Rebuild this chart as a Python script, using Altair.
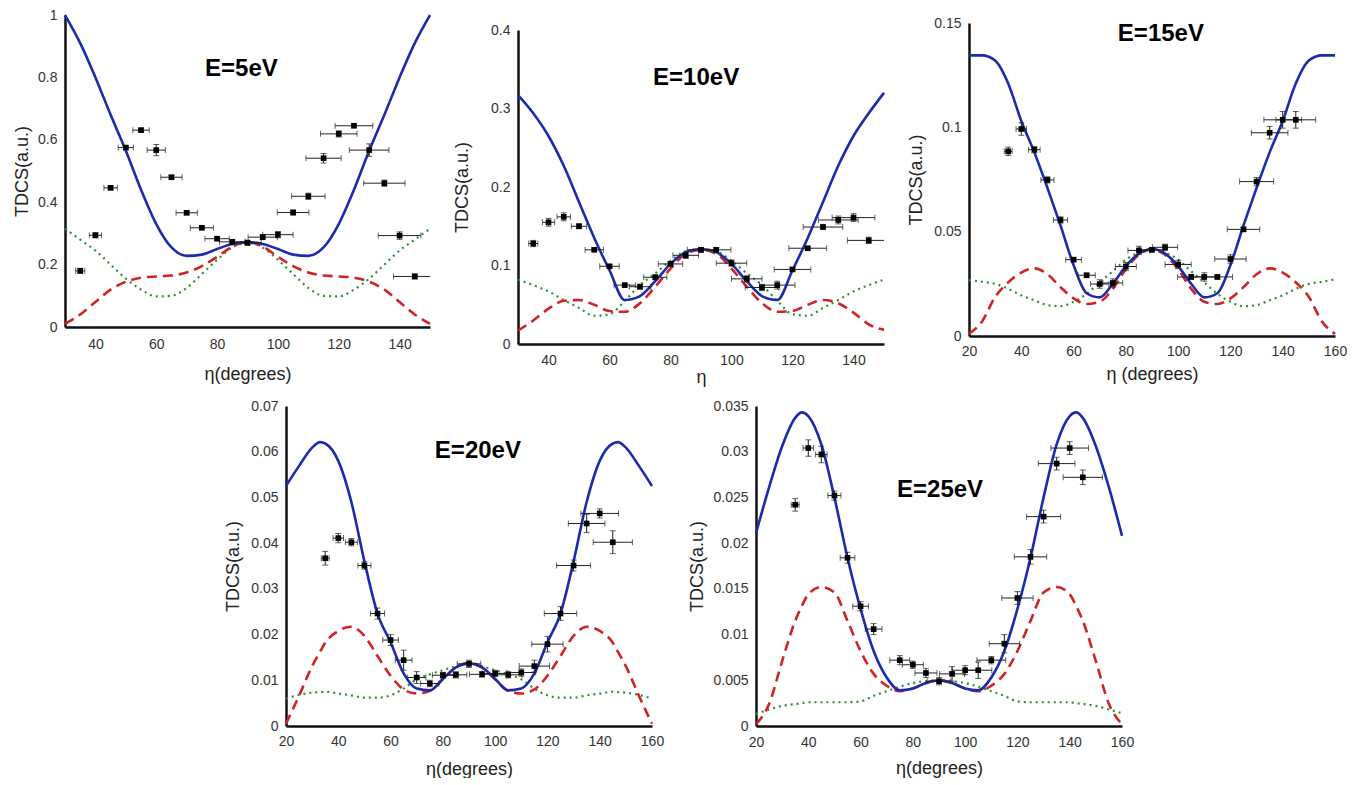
import altair as alt
import pandas as pd

# ---------------- data ----------------
# Panel E=5eV
P1_CURVE_ETA = [30, 35, 40, 45, 50, 55, 60, 65, 70, 75, 80, 85, 90, 95, 100, 105, 110, 115, 120, 125, 130, 135, 140, 145, 150]
P1_BLUE = [1.0, 0.91, 0.80, 0.68, 0.565, 0.44, 0.33, 0.255, 0.228, 0.232, 0.25, 0.266, 0.272, 0.266, 0.25, 0.232, 0.228, 0.255, 0.33, 0.44, 0.565, 0.68, 0.80, 0.91, 1.0]
P1_RED = [0.01, 0.04, 0.08, 0.12, 0.145, 0.158, 0.162, 0.165, 0.175, 0.195, 0.225, 0.258, 0.272, 0.258, 0.225, 0.195, 0.175, 0.165, 0.162, 0.158, 0.145, 0.12, 0.08, 0.04, 0.01]
P1_GREEN = [0.315, 0.28, 0.245, 0.2, 0.155, 0.12, 0.098, 0.1, 0.125, 0.17, 0.215, 0.255, 0.27, 0.255, 0.215, 0.17, 0.125, 0.1, 0.098, 0.12, 0.155, 0.2, 0.245, 0.28, 0.315]
P1_DATA_ETA = [35, 40, 45, 50, 55, 60, 65, 70, 75, 80, 85, 90, 95, 100, 105, 110, 115, 120, 125, 130, 135, 140, 145]
P1_DATA = [0.18, 0.294, 0.446, 0.575, 0.631, 0.567, 0.48, 0.366, 0.318, 0.283, 0.273, 0.27, 0.288, 0.296, 0.367, 0.419, 0.541, 0.619, 0.645, 0.567, 0.461, 0.293, 0.162]
P1_XERR = [1.5, 2, 2.2, 2.5, 2.7, 3, 3.5, 3.5, 3.8, 4, 4.2, 4.5, 4.8, 5, 5.2, 5.5, 5.8, 6, 6.2, 6.5, 6.8, 7, 7]
P1_YERR = [0.008, 0.008, 0.006, 0.006, 0.006, 0.018, 0.006, 0.006, 0.006, 0.006, 0.006, 0.008, 0.008, 0.01, 0.008, 0.01, 0.015, 0.01, 0.006, 0.02, 0.01, 0.012, 0.008]

# Panel E=10eV
P2_CURVE_ETA = [30, 35, 40, 45, 50, 55, 60, 65, 70, 75, 80, 85, 90, 95, 100, 105, 110, 115, 120, 125, 130, 135, 140, 145, 150]
P2_BLUE = [0.317, 0.294, 0.265, 0.227, 0.181, 0.135, 0.094, 0.056, 0.061, 0.08, 0.102, 0.117, 0.121, 0.117, 0.102, 0.08, 0.061, 0.056, 0.094, 0.135, 0.181, 0.227, 0.265, 0.294, 0.32]
P2_RED = [0.017, 0.03, 0.045, 0.055, 0.056, 0.05, 0.042, 0.041, 0.052, 0.073, 0.096, 0.115, 0.12, 0.115, 0.096, 0.073, 0.052, 0.041, 0.042, 0.05, 0.056, 0.052, 0.04, 0.025, 0.018]
P2_GREEN = [0.082, 0.075, 0.067, 0.056, 0.046, 0.036, 0.038, 0.055, 0.075, 0.09, 0.106, 0.118, 0.12, 0.118, 0.106, 0.09, 0.075, 0.055, 0.038, 0.036, 0.046, 0.056, 0.067, 0.075, 0.082]
P2_DATA_ETA = [35, 40, 45, 50, 55, 60, 65, 70, 75, 80, 85, 90, 95, 100, 105, 110, 115, 120, 125, 130, 135, 140, 145]
P2_DATA = [0.128, 0.155, 0.162, 0.15, 0.12, 0.099, 0.075, 0.073, 0.085, 0.102, 0.113, 0.12, 0.12, 0.103, 0.083, 0.072, 0.075, 0.095, 0.122, 0.149, 0.158, 0.161, 0.132]
P2_XERR = [1.5, 2, 2.2, 2.5, 3, 3.2, 3.5, 3.5, 3.8, 4, 4.2, 4.5, 4.8, 5, 5, 5.5, 5.8, 6, 6.2, 6.5, 6.5, 7, 7]
P2_YERR = [0.004, 0.005, 0.005, 0.003, 0.002, 0.002, 0.002, 0.003, 0.003, 0.003, 0.004, 0.003, 0.003, 0.004, 0.004, 0.004, 0.005, 0.002, 0.002, 0.003, 0.005, 0.005, 0.004]

# Panel E=15eV
P3_CURVE_ETA = [20, 25, 30, 35, 40, 45, 50, 55, 60, 65, 70, 75, 80, 85, 90, 95, 100, 105, 110, 115, 120, 125, 130, 135, 140, 145, 150, 155, 160]
P3_BLUE = [0.1345, 0.1345, 0.132, 0.121, 0.103, 0.088, 0.071, 0.053, 0.034, 0.0205, 0.0185, 0.025, 0.0335, 0.0395, 0.0417, 0.0395, 0.0335, 0.025, 0.0185, 0.0205, 0.034, 0.053, 0.071, 0.088, 0.103, 0.121, 0.132, 0.1345, 0.1345]
P3_RED = [0.001, 0.007, 0.0187, 0.0257, 0.0304, 0.0324, 0.0296, 0.0234, 0.018, 0.0153, 0.0164, 0.0226, 0.032, 0.039, 0.0413, 0.039, 0.032, 0.0226, 0.0164, 0.0153, 0.018, 0.0234, 0.0296, 0.0324, 0.0304, 0.0257, 0.0187, 0.007, 0.001]
P3_GREEN = [0.0268, 0.026, 0.025, 0.0226, 0.0195, 0.0171, 0.0148, 0.0143, 0.0164, 0.0202, 0.0257, 0.031, 0.0366, 0.040, 0.0417, 0.040, 0.0366, 0.031, 0.0257, 0.0202, 0.0164, 0.0143, 0.0148, 0.0171, 0.0195, 0.0226, 0.025, 0.026, 0.0272]
P3_DATA_ETA = [35, 40, 45, 50, 55, 60, 65, 70, 75, 80, 85, 90, 95, 100, 105, 110, 115, 120, 125, 130, 135, 140, 145]
P3_DATA = [0.0885, 0.0992, 0.0893, 0.0748, 0.0556, 0.0366, 0.0291, 0.0249, 0.0254, 0.0333, 0.041, 0.0413, 0.0425, 0.0343, 0.0283, 0.0283, 0.0283, 0.0369, 0.0511, 0.074, 0.0974, 0.1036, 0.1036]
P3_XERR = [1.5, 2, 2.2, 2.5, 2.7, 3, 3.3, 3.5, 3.8, 4, 4.2, 4.5, 4.8, 5, 5.2, 5.5, 5.8, 6, 6.2, 6.5, 7, 7.2, 7.6]
P3_YERR = [0.002, 0.003, 0.0015, 0.0015, 0.0015, 0.001, 0.001, 0.002, 0.002, 0.002, 0.002, 0.001, 0.0015, 0.002, 0.001, 0.002, 0.001, 0.002, 0.001, 0.002, 0.003, 0.004, 0.004]

# Panel E=20eV
P4_CURVE_ETA = [20, 25, 30, 33, 35, 40, 45, 50, 55, 60, 65, 70, 75, 80, 85, 90, 95, 100, 105, 110, 115, 120, 125, 130, 135, 140, 145, 147, 150, 155, 160]
P4_BLUE = [0.0525, 0.0569, 0.0609, 0.0621, 0.0618, 0.058, 0.049, 0.036, 0.0246, 0.0183, 0.0115, 0.0082, 0.0078, 0.0103, 0.0128, 0.0137, 0.0128, 0.0103, 0.0078, 0.0082, 0.0115, 0.0183, 0.0246, 0.036, 0.049, 0.058, 0.0618, 0.0621, 0.0609, 0.0569, 0.0525]
P4_RED = [0.0005, 0.0066, 0.0131, 0.0162, 0.0182, 0.0208, 0.0217, 0.0197, 0.0153, 0.011, 0.008, 0.0071, 0.0077, 0.0102, 0.0128, 0.0137, 0.0128, 0.0102, 0.0077, 0.0071, 0.008, 0.011, 0.0153, 0.0197, 0.0217, 0.0208, 0.0182, 0.0162, 0.0131, 0.0066, 0.0005]
P4_GREEN = [0.006, 0.0068, 0.0073, 0.0074, 0.0075, 0.0071, 0.0067, 0.0062, 0.0062, 0.0067, 0.0082, 0.0102, 0.0113, 0.0122, 0.0131, 0.0139, 0.0131, 0.0122, 0.0113, 0.0102, 0.0082, 0.0067, 0.0062, 0.0062, 0.0067, 0.0071, 0.0075, 0.0074, 0.0073, 0.0068, 0.006]
P4_DATA_ETA = [35, 40, 45, 50, 55, 60, 65, 70, 75, 80, 85, 90, 95, 100, 105, 110, 115, 120, 125, 130, 135, 140, 145]
P4_DATA = [0.0367, 0.0411, 0.0402, 0.0351, 0.0246, 0.0188, 0.0144, 0.0106, 0.0093, 0.0111, 0.0112, 0.0136, 0.0113, 0.0115, 0.0112, 0.0117, 0.0131, 0.0179, 0.0246, 0.0351, 0.0443, 0.0465, 0.0402]
P4_XERR = [1.5, 2, 2.3, 2.5, 2.7, 3, 3.2, 3.5, 3.5, 4, 4.2, 4.5, 4.8, 5, 5.3, 5.5, 5.8, 6, 6.2, 6.5, 7, 7.2, 7.5]
P4_YERR = [0.0015, 0.001, 0.0008, 0.0008, 0.0012, 0.0012, 0.0022, 0.0013, 0.0007, 0.0006, 0.0007, 0.0008, 0.0006, 0.0007, 0.0007, 0.0008, 0.0013, 0.0017, 0.0015, 0.0012, 0.002, 0.001, 0.0025]

# Panel E=25eV
P5_CURVE_ETA = [20, 25, 30, 35, 37.5, 40, 45, 50, 55, 60, 65, 70, 75, 80, 85, 90, 95, 100, 105, 110, 115, 120, 125, 130, 135, 140, 142.5, 145, 150, 155, 160]
P5_BLUE = [0.0211, 0.0261, 0.0306, 0.0337, 0.0343, 0.0339, 0.0308, 0.025, 0.0184, 0.0128, 0.0082, 0.0053, 0.0039, 0.0041, 0.0047, 0.005, 0.0047, 0.0041, 0.0039, 0.0053, 0.0082, 0.0128, 0.0184, 0.025, 0.0308, 0.0339, 0.0343, 0.0337, 0.0306, 0.0261, 0.0208]
P5_RED = [0.0002, 0.0024, 0.0071, 0.0115, 0.0131, 0.0144, 0.0152, 0.0146, 0.0115, 0.0082, 0.0057, 0.0044, 0.0038, 0.0041, 0.0047, 0.005, 0.0047, 0.0041, 0.0038, 0.0044, 0.0057, 0.0082, 0.0115, 0.0146, 0.0152, 0.0144, 0.0131, 0.0115, 0.0071, 0.0024, 0.0002]
P5_GREEN = [0.0013, 0.0018, 0.0022, 0.0024, 0.0025, 0.0026, 0.0026, 0.0026, 0.0026, 0.0027, 0.0033, 0.0038, 0.0043, 0.0047, 0.0049, 0.005, 0.0049, 0.0047, 0.0043, 0.0038, 0.0033, 0.0027, 0.0026, 0.0026, 0.0026, 0.0026, 0.0025, 0.0024, 0.0022, 0.0018, 0.0014]
P5_DATA_ETA = [35, 40, 45, 50, 55, 60, 65, 75, 80, 85, 90, 95, 100, 105, 110, 115, 120, 125, 130, 135, 140, 145]
P5_DATA = [0.0242, 0.0304, 0.0297, 0.0252, 0.0184, 0.0131, 0.0106, 0.0072, 0.0067, 0.0058, 0.0049, 0.0057, 0.0061, 0.0061, 0.0072, 0.009, 0.014, 0.0185, 0.0229, 0.0287, 0.0304, 0.0272]
P5_XERR = [1.5, 2, 2.2, 2.5, 2.8, 3, 3.2, 3.8, 4, 4.2, 4.5, 4.8, 5, 5.2, 5.5, 5.8, 6, 6.2, 6.5, 7, 7.2, 7.5]
P5_YERR = [0.0007, 0.0009, 0.0009, 0.0005, 0.0006, 0.0005, 0.0006, 0.0005, 0.0004, 0.0005, 0.0004, 0.0008, 0.0005, 0.0009, 0.0004, 0.001, 0.0007, 0.0008, 0.0007, 0.0007, 0.0007, 0.0008]

LABELS = ["E=5eV", "E=10eV", "E=15eV", "E=20eV", "E=25eV"]
Y_TITLE = "TDCS(a.u.)"
X_TITLES = ["η(degrees)", "η", "η (degrees)", "η(degrees)", "η(degrees)"]

# ---------------- styling ----------------
FONT = "Liberation Sans"
BLUE = "#1c2aae"
RED = "#d42222"
GREEN = "#2e8f2e"


def panel(curve_eta, blue, red, green, d_eta, d_val, xerr, yerr,
          xdom, ydom, xticks, yticks, w, h, label, label_pos, xtitle,
          yext, ytp, xlp, xtp):
    curves = pd.DataFrame({"eta": curve_eta, "blue": blue, "red": red, "green": green})
    pts = pd.DataFrame({"eta": d_eta, "v": d_val, "xe": xerr, "ye": yerr})
    pts["lo"] = pts["eta"] - pts["xe"]
    pts["hi"] = pts["eta"] + pts["xe"]
    pts["vlo"] = pts["v"] - pts["ye"]
    pts["vhi"] = pts["v"] + pts["ye"]
    lab = pd.DataFrame({"eta": [label_pos[0]], "v": [label_pos[1]], "t": [label]})

    xs = alt.Scale(domain=xdom, nice=False, zero=False)
    ys = alt.Scale(domain=ydom, nice=False, zero=False)
    xax = alt.Axis(values=xticks, title=xtitle, grid=False, ticks=False,
                   domainColor="#111", domainWidth=2.5, labelFontSize=14,
                   labelColor="#333", labelFont=FONT, labelPadding=xlp,
                   titleFontSize=18, titleFontWeight="normal", titleColor="#222",
                   titleFont=FONT, titlePadding=xtp, labelFlush=False)
    yax = alt.Axis(values=yticks, title=Y_TITLE, grid=False, ticks=False, format="~g",
                   domainColor="#111", domainWidth=2.5, labelFontSize=14,
                   labelColor="#333", labelFont=FONT, labelPadding=8,
                   titleFontSize=18, titleFontWeight="normal", titleColor="#222",
                   titleFont=FONT, titlePadding=ytp, minExtent=yext, maxExtent=yext,
                   labelFlush=False)

    base = alt.Chart(curves)
    green_l = base.mark_line(color=GREEN, strokeWidth=2.2, strokeDash=[2, 4], interpolate="monotone").encode(
        x=alt.X("eta:Q", scale=xs, axis=xax), y=alt.Y("green:Q", scale=ys, axis=yax))
    red_l = base.mark_line(color=RED, strokeWidth=2.6, strokeDash=[10, 6], interpolate="monotone").encode(
        x=alt.X("eta:Q", scale=xs), y=alt.Y("red:Q", scale=ys))
    blue_l = base.mark_line(color=BLUE, strokeWidth=2.6, interpolate="monotone").encode(
        x=alt.X("eta:Q", scale=xs), y=alt.Y("blue:Q", scale=ys))

    pb = alt.Chart(pts)
    hbar = pb.mark_rule(color="#222", strokeWidth=1, clip=True).encode(
        x=alt.X("lo:Q", scale=xs), x2="hi:Q", y=alt.Y("v:Q", scale=ys))
    vbar = pb.mark_rule(color="#222", strokeWidth=1, clip=True).encode(
        x=alt.X("eta:Q", scale=xs), y=alt.Y("vlo:Q", scale=ys), y2="vhi:Q")
    capl = pb.mark_tick(color="#222", orient="vertical", size=6, thickness=1, clip=True).encode(
        x=alt.X("lo:Q", scale=xs), y=alt.Y("v:Q", scale=ys))
    capr = pb.mark_tick(color="#222", orient="vertical", size=6, thickness=1, clip=True).encode(
        x=alt.X("hi:Q", scale=xs), y=alt.Y("v:Q", scale=ys))
    capb = pb.mark_tick(color="#222", orient="horizontal", size=6, thickness=1, clip=True).encode(
        x=alt.X("eta:Q", scale=xs), y=alt.Y("vlo:Q", scale=ys))
    capt = pb.mark_tick(color="#222", orient="horizontal", size=6, thickness=1, clip=True).encode(
        x=alt.X("eta:Q", scale=xs), y=alt.Y("vhi:Q", scale=ys))
    dots = pb.mark_square(color="#000", size=32, opacity=1).encode(
        x=alt.X("eta:Q", scale=xs), y=alt.Y("v:Q", scale=ys))
    txt = alt.Chart(lab).mark_text(font=FONT, fontSize=24, fontWeight="bold", color="#000",
                                   align="center", baseline="middle").encode(
        x=alt.X("eta:Q", scale=xs), y=alt.Y("v:Q", scale=ys), text="t:N")

    return alt.layer(green_l, red_l, blue_l, hbar, vbar, capl, capr, capb, capt, dots, txt).properties(
        width=w, height=h)


def spacer(w, h):
    # invisible block used only to offset a panel inside its row
    return alt.Chart(pd.DataFrame({"a": [0]})).mark_point(opacity=0, size=0).encode(
        x=alt.value(1), y=alt.value(1)).properties(width=w, height=h)


p1 = panel(P1_CURVE_ETA, P1_BLUE, P1_RED, P1_GREEN, P1_DATA_ETA, P1_DATA, P1_XERR, P1_YERR,
           [30, 150], [0, 1], [40, 60, 80, 100, 120, 140], [0, 0.2, 0.4, 0.6, 0.8, 1],
           365, 312, LABELS[0], (88, 0.827), X_TITLES[0], 28, 6, 10, 14)
p2 = panel(P2_CURVE_ETA, P2_BLUE, P2_RED, P2_GREEN, P2_DATA_ETA, P2_DATA, P2_XERR, P2_YERR,
           [30, 150], [0, 0.4], [40, 60, 80, 100, 120, 140], [0, 0.05, 0.1, 0.15, 0.2, 0.25, 0.3, 0.35, 0.4],
           366, 314, LABELS[1], (88.4, 0.339), X_TITLES[1], 36, 11, 9, 1)
p3 = panel(P3_CURVE_ETA, P3_BLUE, P3_RED, P3_GREEN, P3_DATA_ETA, P3_DATA, P3_XERR, P3_YERR,
           [20, 160], [0, 0.15], [20, 40, 60, 80, 100, 120, 140, 160], [0, 0.05, 0.1, 0.15],
           366, 313, LABELS[2], (93.4, 0.1447), X_TITLES[2], 36, 8, 8, 7)
p4 = panel(P4_CURVE_ETA, P4_BLUE, P4_RED, P4_GREEN, P4_DATA_ETA, P4_DATA, P4_XERR, P4_YERR,
           [20, 160], [0, 0.07], [20, 40, 60, 80, 100, 120, 140, 160], [0, 0.01, 0.02, 0.03, 0.04, 0.05, 0.06, 0.07],
           366, 320, LABELS[3], (93.4, 0.0602), X_TITLES[3], 36, 8, 8, 12)
p5 = panel(P5_CURVE_ETA, P5_BLUE, P5_RED, P5_GREEN, P5_DATA_ETA, P5_DATA, P5_XERR, P5_YERR,
           [20, 160], [0, 0.035], [20, 40, 60, 80, 100, 120, 140, 160], [0, 0.005, 0.01, 0.015, 0.02, 0.025, 0.03, 0.035],
           366, 320, LABELS[4], (90.4, 0.0258), X_TITLES[4], 44, 6, 9, 10)

col2 = alt.vconcat(spacer(10, 8), p2, spacing=0)
col3 = alt.vconcat(spacer(10, 1), p3, spacing=0)
top = alt.hconcat(p1, col2, col3, spacing=17)
bottom = alt.hconcat(spacer(135, 10), p4, p5, spacing=24)
chart = alt.vconcat(top, bottom, spacing=13).properties(
    padding={"left": 5, "top": 0, "right": 5, "bottom": 0}
).configure_view(strokeWidth=0, stroke="transparent")

chart.save("out.html", embed_options={"renderer": "svg", "actions": False})
